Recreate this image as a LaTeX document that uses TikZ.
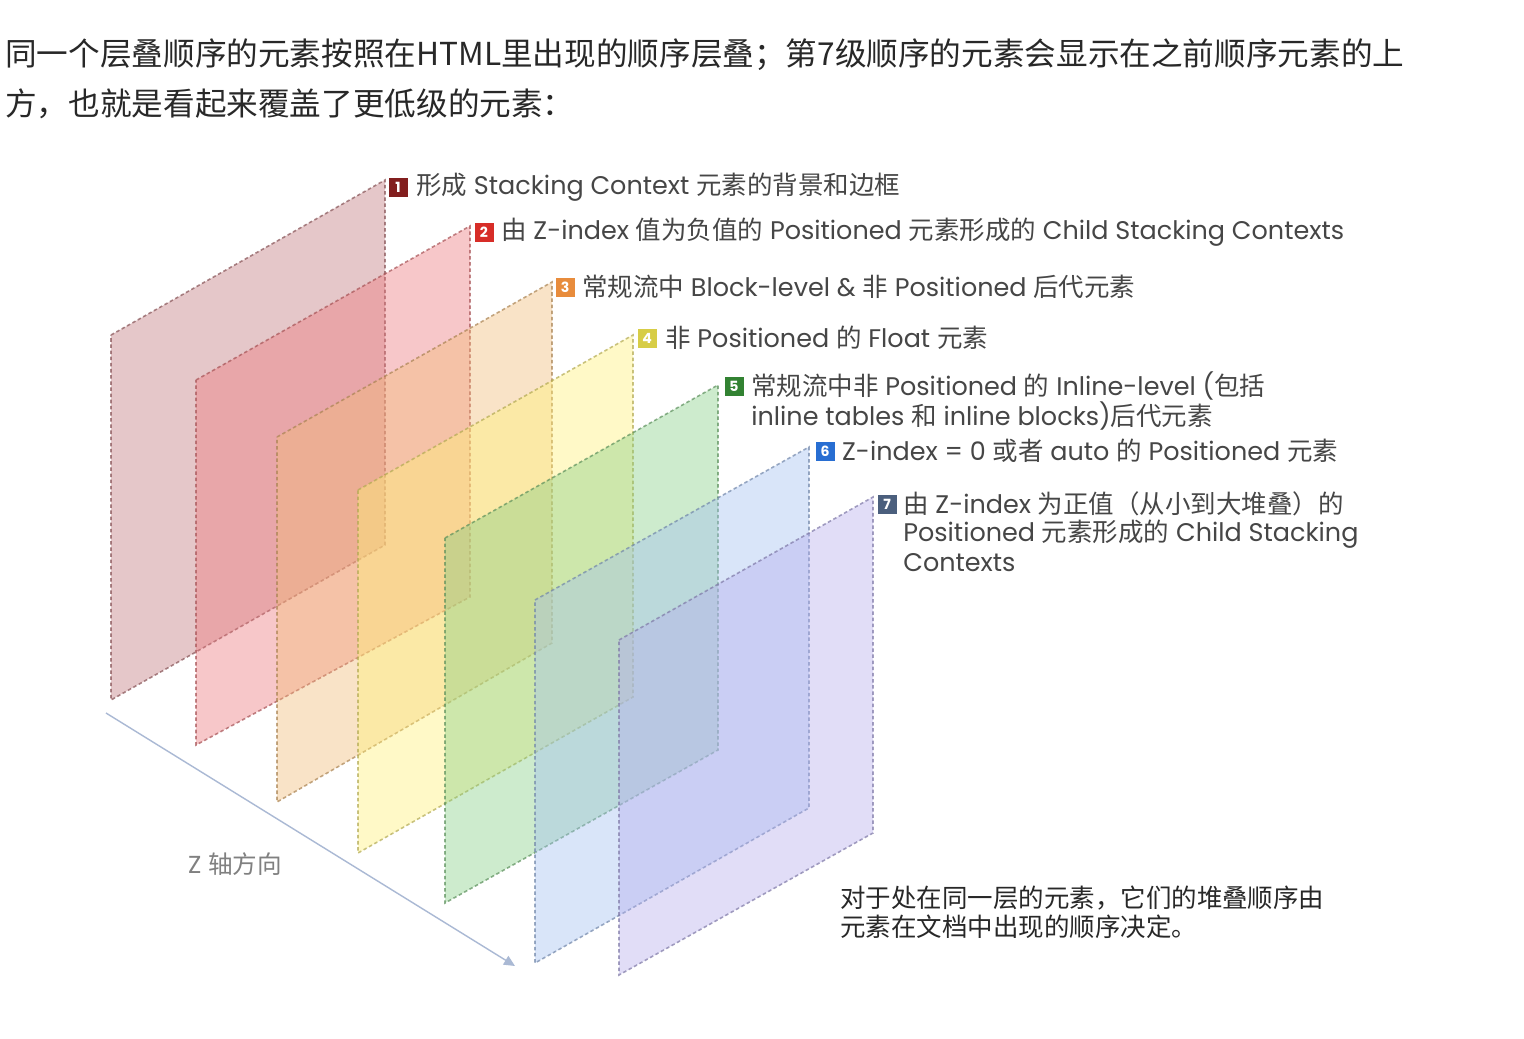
\documentclass[tikz,border=0pt]{standalone}
\usepackage{fontspec}
\setmainfont{Poppins}
\newfontfamily\cjk{Noto Sans CJK SC}
\newcommand{\zh}[1]{{\cjk #1}}
\usepackage{xcolor}
\usetikzlibrary{arrows.meta,positioning}
\definecolor{lay1}{RGB}{192,117,122}
\definecolor{lay2}{RGB}{237,117,122}
\definecolor{lay3}{RGB}{242,187,117}
\definecolor{lay4}{RGB}{255,242,117}
\definecolor{lay5}{RGB}{130,205,130}
\definecolor{lay6}{RGB}{162,192,242}
\definecolor{lay7}{RGB}{180,172,237}
\definecolor{tag1}{RGB}{130,30,30}
\definecolor{tag2}{RGB}{215,45,40}
\definecolor{tag3}{RGB}{232,140,60}
\definecolor{tag4}{RGB}{215,205,70}
\definecolor{tag5}{RGB}{50,130,50}
\definecolor{tag6}{RGB}{40,110,210}
\definecolor{tag7}{RGB}{75,95,125}
\definecolor{txtgray}{RGB}{70,70,70}
\definecolor{headgray}{RGB}{40,40,40}
\definecolor{axisblue}{RGB}{170,185,212}
\tikzset{
  zplane/.style={fill=#1,fill opacity=.4,draw=#1!70!black,draw opacity=.7,line width=.9pt,dash pattern=on 2pt off 1.5pt},
  tag/.style={rectangle,fill=#1,text=white,font=\fontsize{8}{8}\selectfont\bfseries,minimum size=.38cm,inner sep=0pt},
  lab/.style={font=\fontsize{14.5}{17}\selectfont,text=txtgray,inner sep=0pt,anchor=west},
  note/.style={font=\fontsize{14.5}{17}\selectfont\cjk,text=headgray,inner sep=0pt,anchor=west},
  head/.style={font=\fontsize{18}{22}\selectfont\cjk,text=headgray,inner sep=0pt,anchor=west},
  zaxis/.style={line width=.8pt,axisblue,-{Triangle[length=2.2mm,width=2mm]}},
  every picture/.style={x=0.02cm,y=-0.02cm}
}
\begin{document}
\begin{tikzpicture}
  \fill[white] (0,0) rectangle (1524,1038);
  \useasboundingbox (0,0) rectangle (1524,1038);

  % heading
  \node[head] (h1) at (5,55) {同一个层叠顺序的元素按照在HTML里出现的顺序层叠；第7级顺序的元素会显示在之前顺序元素的上};
  \node[head] (h2) at (5,104) {方，也就是看起来覆盖了更低级的元素：};

  % z axis
  \coordinate (zs) at (106,713);
  \coordinate (ze) at (515,966);
  \draw[zaxis] (zs) -- (ze);
  \node[font=\fontsize{14}{17}\selectfont,text=gray] (zl) at (235,864) {Z \zh{轴方向}};

  % stacked planes
  \draw[zplane=lay1] (111,335) -- (385,180) -- (385,545) -- (111,700) -- cycle;
  \draw[zplane=lay2] (196,380) -- (470,226) -- (470,597) -- (196,745) -- cycle;
  \draw[zplane=lay3] (277,437) -- (552,282) -- (552,643) -- (277,802) -- cycle;
  \draw[zplane=lay4] (358,490) -- (633,335) -- (633,697) -- (358,853) -- cycle;
  \draw[zplane=lay5] (445,538) -- (718,385) -- (718,750) -- (445,903) -- cycle;
  \draw[zplane=lay6] (535,600) -- (809,447) -- (809,808) -- (535,963) -- cycle;
  \draw[zplane=lay7] (619,640) -- (873,497) -- (873,833) -- (619,975) -- cycle;

  % labels
  \node[tag=tag1] (b1) at (398,187) {1};
  \node[lab,right=0.16cm of b1] (t1) {\zh{形成} Stacking Context \zh{元素的背景和边框}};
  \node[tag=tag2] (b2) at (484,232) {2};
  \node[lab,right=0.14cm of b2] (t2) {\zh{由} Z-index \zh{值为负值的} Positioned \zh{元素形成的} Child Stacking Contexts};
  \node[tag=tag3] (b3) at (565,287) {3};
  \node[lab,right=0.14cm of b3] (t3) {\zh{常规流中} Block-level \& \zh{非} Positioned \zh{后代元素}};
  \node[tag=tag4] (b4) at (647,338) {4};
  \node[lab,right=0.16cm of b4] (t4) {\zh{非} Positioned \zh{的} Float \zh{元素}};
  \node[tag=tag5] (b5) at (734,386) {5};
  \node[lab,right=0.14cm of b5] (t5) {\zh{常规流中非} Positioned \zh{的} Inline-level (\zh{包括}};
  \node[lab] (t5b) at (751,416) {inline tables \zh{和} inline blocks)\zh{后代元素}};
  \node[tag=tag6] (b6) at (825,451) {6};
  \node[lab,right=0.14cm of b6] (t6) {Z-index = 0 \zh{或者} auto \zh{的} Positioned \zh{元素}};
  \node[tag=tag7] (b7) at (887,504) {7};
  \node[lab,right=0.12cm of b7] (t7) {\zh{由} Z-index \zh{为正值（从小到大堆叠）的}};
  \node[lab] (t7b) at (903,534) {Positioned \zh{元素形成的} Child Stacking};
  \node[lab] (t7c) at (903,563) {Contexts};

  % note
  \node[note] (n1) at (840,898) {对于处在同一层的元素，它们的堆叠顺序由};
  \node[note] (n2) at (840,927) {元素在文档中出现的顺序决定。};
\end{tikzpicture}
\end{document}
